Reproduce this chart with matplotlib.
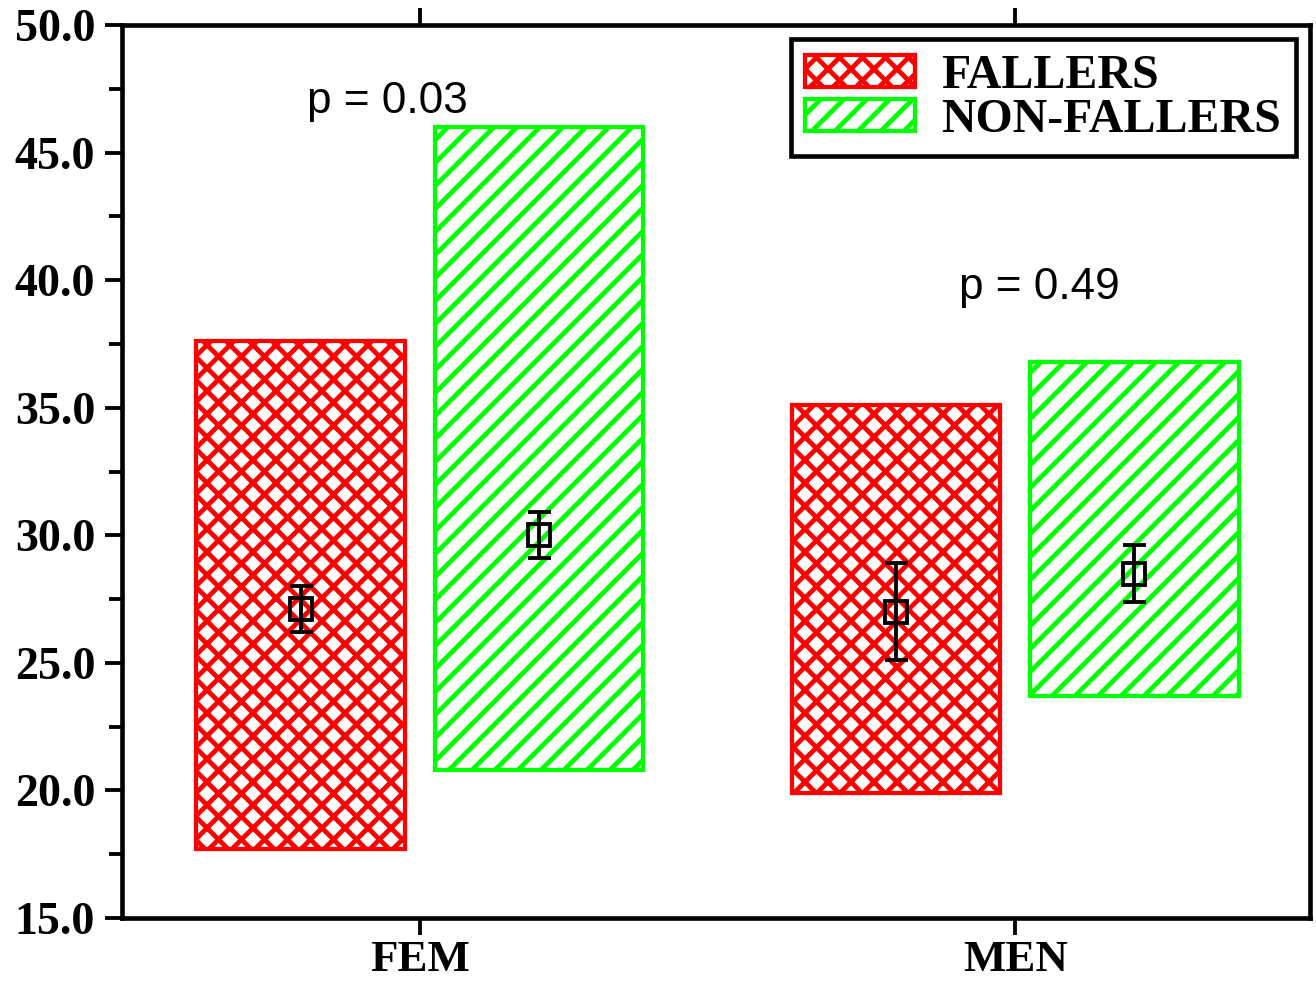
import numpy as np
import matplotlib
matplotlib.use("Agg")
import matplotlib.pyplot as plt
from matplotlib.ticker import MultipleLocator, FormatStrFormatter

# data
groups = ["FEM", "MEN"]
series = ["FALLERS", "NON-FALLERS"]
fallers_low = [17.7, 19.9]
fallers_high = [37.6, 35.1]
non_fallers_low = [20.8, 23.7]
non_fallers_high = [46.0, 36.8]
fallers_mean = [27.1, 27.0]
fallers_err = [0.9, 1.9]
non_fallers_mean = [30.0, 28.5]
non_fallers_err = [0.9, 1.1]
p_labels = ["p = 0.03", "p = 0.49"]

DPI = 138
plt.rcParams["hatch.linewidth"] = 2.5
serif = ["Liberation Serif", "DejaVu Serif"]

fig = plt.figure(figsize=(1316 / DPI, 984 / DPI), dpi=DPI)
ax = fig.add_axes([122 / 1316, 66 / 984, 1188 / 1316, 893 / 984])

x = np.arange(1, len(groups) + 1)
off = 0.2
w = 0.35

b1 = ax.bar(x - off, np.array(fallers_high) - np.array(fallers_low),
            bottom=fallers_low, width=w, facecolor="white",
            edgecolor="#ff0000", hatch="xx", linewidth=2.2, label=series[0])
b2 = ax.bar(x + off, np.array(non_fallers_high) - np.array(non_fallers_low),
            bottom=non_fallers_low, width=w, facecolor="white",
            edgecolor="#00ff00", hatch="//", linewidth=2.2, label=series[1])

for xs, m, e in [(x - off, fallers_mean, fallers_err),
                 (x + off, non_fallers_mean, non_fallers_err)]:
    ax.errorbar(xs, m, yerr=e, fmt="s", mfc="none", mec="black", ms=11.5,
                mew=2.0, ecolor="black", elinewidth=2.0, capsize=6,
                capthick=2.0, zorder=5)

# p-value annotations
ax.text(0.945, 47.0, p_labels[0], ha="center", va="center",
        fontsize=23, family="Liberation Sans")
ax.text(2.04, 39.7, p_labels[1], ha="center", va="center",
        fontsize=23, family="Liberation Sans")

ax.set_xlim(0.5, 2.495)
ax.set_ylim(15, 50)
ax.set_xticks(x)
ax.set_xticklabels(groups)
ax.yaxis.set_major_locator(MultipleLocator(5))
ax.yaxis.set_minor_locator(MultipleLocator(2.5))
ax.yaxis.set_major_formatter(FormatStrFormatter("%.1f"))

for s in ax.spines.values():
    s.set_linewidth(2.4)
ax.tick_params(axis="both", which="major", direction="out", length=9,
               width=2.0, pad=5)
ax.tick_params(axis="x", pad=2.5)
ax.tick_params(axis="y", which="minor", direction="out", length=7, width=2.0)
ax.tick_params(axis="x", top=True, bottom=True)
ax.tick_params(axis="y", left=True, right=False, which="both")

for lab in ax.get_yticklabels():
    lab.set_family(serif)
    lab.set_fontweight("bold")
    lab.set_fontsize(24)
for lab in ax.get_xticklabels():
    lab.set_family(serif)
    lab.set_fontweight("bold")
    lab.set_fontsize(23.5)

leg = ax.legend(handles=[b1, b2], loc="upper right", fancybox=False,
                framealpha=1, edgecolor="black",
                prop={"family": serif, "weight": "bold", "size": 25},
                handlelength=2.3, handleheight=0.65, handletextpad=0.55,
                labelspacing=0.0, borderaxespad=0.3, borderpad=0.3)
leg.get_frame().set_linewidth(2.4)

fig.savefig("out.png", dpi=DPI)
